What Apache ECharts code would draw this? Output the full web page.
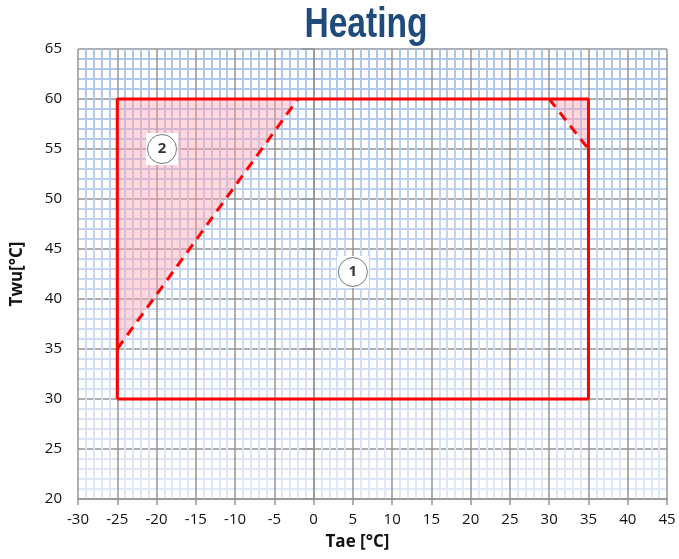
<!DOCTYPE html>
<html><head><meta charset="utf-8">
<script src="https://cdn.jsdelivr.net/npm/echarts@6/dist/echarts.min.js"></script>
<style>html,body{margin:0;padding:0;background:#fff}#c{width:679px;height:559px}</style>
</head><body><div id="c"></div>
<script>
const xTicks = [-30,-25,-20,-15,-10,-5,0,5,10,15,20,25,30,35,40,45];
const yTicks = [20,25,30,35,40,45,50,55,60,65];
const envelope = [[-25,30],[-25,60],[35,60],[35,30],[-25,30]];
const dashLeft = [[-25,35],[-2,60]];
const dashRight = [[30,60],[35,55]];
const fillLeft = [[-25,35],[-25,60],[-2,60]];
const fillRight = [[30,60],[35,60],[35,55]];
const zoneLabels = [{name:'1', value:[5,42.7]},{name:'2', value:[-19.3,55]}];

const chart = echarts.init(document.getElementById('c'));
const minorGrad = new echarts.graphic.LinearGradient(0,49,0,499,[
  {offset:0,color:'#adc4ec'},{offset:1,color:'#e2e9f6'}],true);
const tickFont = {fontFamily:'Open Sans, Noto Sans, sans-serif', fontSize:15, color:'#111'};
function poly(pts){
  return {type:'custom', coordinateSystem:'cartesian2d', silent:true, z:1,
    data:[0],
    renderItem:function(params, api){
      return {type:'polygon', shape:{points:pts.map(p=>api.coord(p))},
        style:{fill:'rgba(255,160,172,0.42)'}};
    }};
}
chart.setOption({
  animation:false,
  graphic:[{type:'text', x:366, y:4, scaleX:0.8, originX:0, z:10,
    style:{text:'Heating', textAlign:'center', textVerticalAlign:'top',
      fontFamily:'Liberation Sans, Arial, sans-serif', fontWeight:'bold', fontSize:42, fill:'#1f4a7c'}}],
  grid:{left:78, right:12, top:49, bottom:60},
  xAxis:{type:'value', min:-30, max:45, interval:5,
    name:'Tae [°C]', nameLocation:'middle', nameGap:35,
    nameTextStyle:{fontFamily:'Open Sans, Noto Sans, sans-serif', fontWeight:'bold', fontSize:17, color:'#111', padding:[0,30,0,0]},
    axisLine:{show:true, lineStyle:{color:'#959595', width:1.5}},
    axisTick:{show:true, length:6, lineStyle:{color:'#959595', width:1.5}},
    axisLabel:Object.assign({margin:13, formatter:v=>String(v)}, tickFont),
    splitLine:{show:true, lineStyle:{color:'#959595', width:1.5}},
    minorTick:{show:false, splitNumber:5},
    minorSplitLine:{show:true, lineStyle:{color:minorGrad, width:2}}},
  yAxis:{type:'value', min:20, max:65, interval:5,
    name:'Twu[°C]', nameLocation:'middle', nameGap:52, nameRotate:90,
    nameTextStyle:{fontFamily:'Open Sans, Noto Sans, sans-serif', fontWeight:'bold', fontSize:17, color:'#111'},
    axisLine:{show:true, lineStyle:{color:'#959595', width:1.5}},
    axisTick:{show:true, length:12, lineStyle:{color:'#959595', width:1.5}},
    axisLabel:Object.assign({margin:16}, tickFont),
    splitLine:{show:true, lineStyle:{color:'#959595', width:1.5}},
    minorTick:{show:false, splitNumber:5},
    minorSplitLine:{show:true, lineStyle:{color:minorGrad, width:2}}},
  series:[
    poly(fillLeft),
    poly(fillRight),
    {type:'line', data:envelope, symbol:'none', z:3, lineStyle:{color:'#ff0000', width:3}},
    {type:'line', data:dashLeft, symbol:'none', z:3, lineStyle:{color:'#ff0000', width:3, type:[10,7]}},
    {type:'line', data:dashRight, symbol:'none', z:3, lineStyle:{color:'#ff0000', width:3, type:[10,7]}},
    {type:'scatter', data:zoneLabels, symbol:'rect', symbolSize:[32,32], z:4,
      itemStyle:{color:'#fff', opacity:1}},
    {type:'scatter', data:zoneLabels, symbol:'circle', symbolSize:29, z:5,
      itemStyle:{color:'#fff', borderColor:'#555', borderWidth:1},
      label:{show:true, position:'inside', formatter:p=>p.name,
        fontFamily:'Open Sans, Noto Sans, sans-serif', fontWeight:'bold', fontSize:15, color:'#000'}}
  ]
});
</script></body></html>
